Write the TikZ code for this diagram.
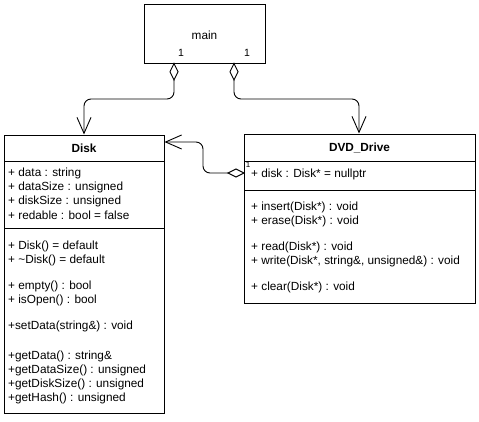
\documentclass[tikz,border=0pt]{standalone}
\usepackage{fontspec}
\setmainfont{Liberation Sans}
\usetikzlibrary{arrows.meta}
\begin{document}
\begin{tikzpicture}[x=1pt,y=-1pt,
  box/.style={draw, line width=0.9pt},
  sep/.style={line width=0.9pt},
  txt/.style={anchor=west, inner sep=0pt, font=\fontsize{11.8}{13}\selectfont},
  title/.style={inner sep=0pt, font=\fontsize{11.8}{13}\selectfont\bfseries},
  mult/.style={inner sep=0pt, font=\fontsize{10.5}{12}\selectfont},
  conn/.style={line width=0.9pt, rounded corners=7pt,
    -{Straight Barb[open,length=16pt,width=14pt,line width=0.9pt]}},
  agg/.style={draw, line width=0.9pt, fill=white}]
\useasboundingbox (0,0) rectangle (479,422);

% main box
\draw[box] (144,4) rectangle (265,63);
\node[inner sep=0pt, font=\fontsize{11.8}{13}\selectfont] (main) at (204.5,35) {main};
\node[mult] (m1) at (181,53) {1};
\node[mult] (m2) at (247,53) {1};

% Disk class
\draw[box] (4,135) rectangle (164,413);
\draw[sep] (4,161) -- (164,161);
\draw[sep] (4,228) -- (164,228);
\node[title] (disk) at (84,148) {Disk};
\node[txt] (d1) at (8,173) {+ data : string};
\node[txt] (d2) at (8,187) {+ dataSize : unsigned};
\node[txt] (d3) at (8,201) {+ diskSize : unsigned};
\node[txt] (d4) at (8,215) {+ redable : bool = false};
\node[txt] (d5) at (8,246) {+ Disk() = default};
\node[txt] (d6) at (8,260) {+ \textasciitilde Disk() = default};
\node[txt] (d7) at (8,286) {+ empty() : bool};
\node[txt] (d8) at (8,300) {+ isOpen() : bool};
\node[txt] (d9) at (8,326) {+setData(string\&) : void};
\node[txt] (d10) at (8,356) {+getData() : string\&};
\node[txt] (d11) at (8,370) {+getDataSize() : unsigned};
\node[txt] (d12) at (8,384) {+getDiskSize() : unsigned};
\node[txt] (d13) at (8,398) {+getHash() : unsigned};

% DVD_Drive class
\draw[box] (244,134) rectangle (475,303);
\draw[sep] (244,161) -- (475,161);
\draw[sep] (244,190) -- (475,190);
\node[title] (dvd) at (359.5,148) {DVD\_Drive};
\node[mult, font=\fontsize{8}{9}\selectfont] (m3) at (248,165) {1};
\node[txt] (v1) at (251,174) {+ disk : Disk* = nullptr};
\node[txt] (v2) at (251,207) {+ insert(Disk*) : void};
\node[txt] (v3) at (251,221) {+ erase(Disk*) : void};
\node[txt] (v4) at (251,247) {+ read(Disk*) : void};
\node[txt] (v5) at (251,261) {+ write(Disk*, string\&, unsigned\&) : void};
\node[txt] (v6) at (251,287) {+ clear(Disk*) : void};

% aggregation connectors
\coordinate (a1) at (174,80);
\coordinate (a2) at (234,80);
\coordinate (a3) at (228,173);
\coordinate (t1) at (84,134.5);
\coordinate (t2) at (359,133.5);
\coordinate (t3) at (164.5,142);

\draw[conn] (a1) -- (174,99) -- (84,99) -- (t1);
\draw[conn] (a2) -- (234,99) -- (359,99) -- (t2);
\draw[conn] (a3) -- (203,173) -- (203,142) -- (t3);

\draw[agg] (174,63.5) -- (178,71.75) -- (174,80) -- (170,71.75) -- cycle;
\draw[agg] (234,63.5) -- (238,71.75) -- (234,80) -- (230,71.75) -- cycle;
\draw[agg] (244,173) -- (236,177) -- (228,173) -- (236,169) -- cycle;
\end{tikzpicture}
\end{document}
